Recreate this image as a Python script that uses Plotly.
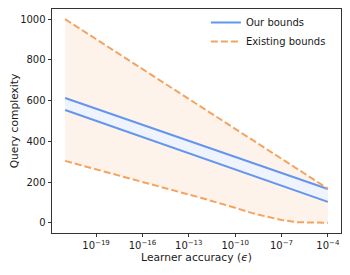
import plotly.graph_objects as go

# Learner accuracy (epsilon) sample points
eps = [1e-21, 1e-18, 1e-15, 1e-12, 1e-10, 1e-9, 1e-8, 1e-7, 1e-6, 1e-5, 1e-4]

# Our bounds (upper and lower)
our_upper = [613, 534, 456, 377, 325, 298, 272, 246, 220, 193, 166]
our_lower = [554, 474, 395, 315, 262, 235, 209, 182, 156, 129, 103]

# Existing bounds (upper and lower)
exist_upper = [1000, 853, 706, 559, 461, 412, 363, 314, 265, 216, 168]
exist_lower = [304, 243, 180, 118, 74, 50, 31, 14, 3, 0, 0]

tick_exps = [-19, -16, -13, -10, -7, -4]
tick_vals = [10.0 ** e for e in tick_exps]
tick_text = ["10<sup>\u2212%d</sup>" % (-e) for e in tick_exps]
y_ticks = [0, 200, 400, 600, 800, 1000]

BLUE = "#6495ED"
ORANGE = "#F4A460"
FONT = "DejaVu Sans"
DASH = "7px,3px"

fig = go.Figure()

# fills
fig.add_trace(go.Scatter(x=eps, y=exist_lower, mode="lines", line=dict(width=0),
                         showlegend=False, hoverinfo="skip"))
fig.add_trace(go.Scatter(x=eps, y=exist_upper, mode="lines", line=dict(width=0),
                         fill="tonexty", fillcolor="#FEF3EA",
                         showlegend=False, hoverinfo="skip"))
fig.add_trace(go.Scatter(x=eps, y=our_lower, mode="lines", line=dict(width=0),
                         showlegend=False, hoverinfo="skip"))
fig.add_trace(go.Scatter(x=eps, y=our_upper, mode="lines", line=dict(width=0),
                         fill="tonexty", fillcolor="#EEF3FD",
                         showlegend=False, hoverinfo="skip"))

# lines
fig.add_trace(go.Scatter(x=eps, y=our_upper, mode="lines", name="Our bounds",
                         line=dict(color=BLUE, width=2), legendgroup="our"))
fig.add_trace(go.Scatter(x=eps, y=our_lower, mode="lines", name="Our bounds",
                         line=dict(color=BLUE, width=2), legendgroup="our",
                         showlegend=False))
fig.add_trace(go.Scatter(x=eps, y=exist_upper, mode="lines", name="Existing bounds",
                         line=dict(color=ORANGE, width=2, dash=DASH),
                         legendgroup="ex"))
fig.add_trace(go.Scatter(x=eps, y=exist_lower, mode="lines", name="Existing bounds",
                         line=dict(color=ORANGE, width=2, dash=DASH),
                         legendgroup="ex", showlegend=False))

# page body has an 8px margin, so the figure is sized to fit the 350x275 window
fig.update_layout(
    width=342, height=267,
    margin=dict(l=44, r=9, t=0, b=42),
    paper_bgcolor="white", plot_bgcolor="white",
    font=dict(family=FONT, size=10, color="#1a1a1a"),
    legend=dict(x=0.965, y=1.005, xanchor="right", yanchor="top",
                bgcolor="rgba(255,255,255,0)", font=dict(size=10),
                tracegroupgap=0, itemwidth=30),
)

fig.update_xaxes(
    type="log", range=[-21.85, -3.15],
    tickvals=tick_vals, ticktext=tick_text,
    ticks="outside", ticklen=3.5, tickwidth=0.8, tickcolor="#333333",
    showgrid=False, zeroline=False, automargin=False,
    showline=True, linecolor="#333333", linewidth=0.8, mirror=True,
    title=dict(text="Learner accuracy (<i>\u03f5</i>)", font=dict(size=10.7), standoff=1),
    tickfont=dict(size=10),
)
fig.update_yaxes(
    range=[-50, 1050],
    tickvals=y_ticks,
    ticks="outside", ticklen=3.5, tickwidth=0.8, tickcolor="#333333",
    showgrid=False, zeroline=False, automargin=False,
    showline=True, linecolor="#333333", linewidth=0.8, mirror=True,
    title=dict(text="Query complexity", font=dict(size=10.7)),
    tickfont=dict(size=10),
)

fig.write_html("out.html")
